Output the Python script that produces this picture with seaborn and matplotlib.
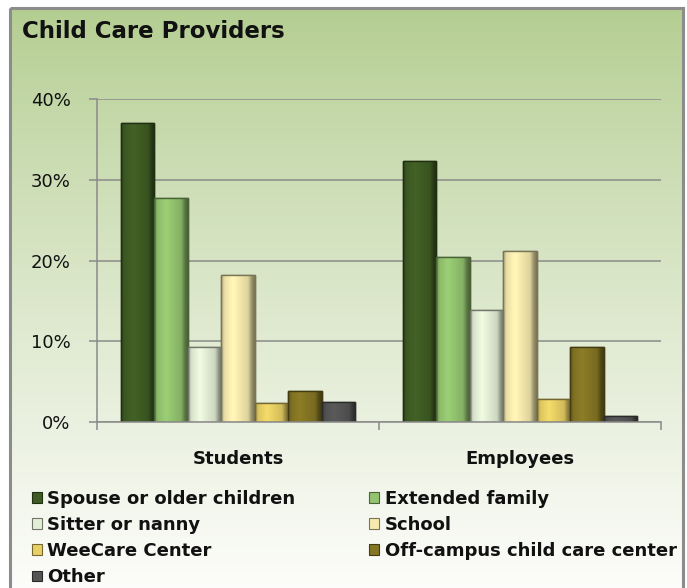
import numpy as np
import pandas as pd
import seaborn as sns
import matplotlib.pyplot as plt
from matplotlib.patches import Rectangle, Patch
from matplotlib.colors import to_rgb

# data (percent)
groups = ['Students', 'Employees']
providers = ['Spouse or older children', 'Extended family', 'Sitter or nanny', 'School',
             'WeeCare Center', 'Off-campus child care center', 'Other']
students = [37.0, 27.7, 9.3, 18.2, 2.3, 3.8, 2.5]
employees = [32.3, 20.4, 13.9, 21.2, 2.9, 9.3, 0.8]
yticks = [0, 10, 20, 30, 40]
ytick_labels = ['0%', '10%', '20%', '30%', '40%']

colors = ['#3f5c24', '#93c46f', '#e3eed6', '#f6eaae', '#e8d064', '#857624', '#555555']

df = pd.DataFrame({
    'group': np.repeat(groups, len(providers)),
    'provider': providers * 2,
    'value': students + employees,
})

sns.set_style('white')
plt.rcParams['font.family'] = ['DejaVu Sans']

W, H = 687, 588
fig = plt.figure(figsize=(W / 100, H / 100), dpi=100)
fig.patch.set_facecolor('white')

# gradient background inside the chart frame
bg = fig.add_axes([0, 0, 1, 1], zorder=-5)
bg.set_xlim(0, W)
bg.set_ylim(H, 0)
bg.axis('off')
top_c = np.array([0xb3, 0xcd, 0x90]) / 255
bot_c = np.array([0xfd, 0xfd, 0xfb]) / 255
t = np.linspace(0, 1, 256)[:, None] ** 0.85
grad = top_c[None, :] * (1 - t) + bot_c[None, :] * t
grad = np.repeat(grad[:, None, :], 2, axis=1)
bg.imshow(grad, extent=(10, 683, H + 5, 8), aspect='auto', interpolation='bilinear')
bg.add_patch(Rectangle((10, 8), 673, H + 10, fill=False, edgecolor='#8c8c8c', linewidth=2.2))

ax = fig.add_axes([97 / W, 1 - 422 / H, (661 - 97) / W, (422 - 99) / H])
ax.patch.set_alpha(0)

sns.barplot(data=df, x='group', y='value', hue='provider', hue_order=providers,
            palette=colors, saturation=1, width=0.83, linewidth=1.0,
            legend=False, ax=ax)

ax.set_ylim(0, 40)
ax.set_xlim(-0.5, 1.5)

# bevel-like shading across each bar, clipped to the bar itself
profile = np.interp(np.linspace(0, 1, 64), [0, 0.1, 0.35, 0.8, 0.92, 1],
                    [0.72, 0.95, 1.06, 0.9, 0.6, 0.5])
for p in list(ax.patches):
    fc = np.array(to_rgb(p.get_facecolor()[:3]))
    p.set_edgecolor(tuple(fc * 0.5))
    x0, y0 = p.get_x(), p.get_y()
    w, h = p.get_width(), p.get_height()
    if h <= 0:
        continue
    shade = np.clip(fc[None, :] * profile[:, None], 0, 1)[None, :, :]
    im = ax.imshow(shade, extent=(x0, x0 + w, y0, y0 + h), aspect='auto',
                   interpolation='bilinear', zorder=p.get_zorder() + 0.1)
    im.set_clip_path(p)
    ax.add_patch(Rectangle((x0, y0), w, h, fill=False, edgecolor=tuple(fc * 0.5),
                           linewidth=1.0, zorder=p.get_zorder() + 0.2))

ax.set_yticks(yticks)
ax.set_yticklabels(ytick_labels, fontsize=13)
ax.set_axisbelow(True)
ax.yaxis.grid(True, color='#8a8a8a', linewidth=1.1)
ax.set_xlabel('')
ax.set_ylabel('')
for lab in ax.get_xticklabels():
    lab.set_fontweight('bold')
    lab.set_fontsize(13)

for s in ['top', 'right']:
    ax.spines[s].set_visible(False)
for s in ['left', 'bottom']:
    ax.spines[s].set_color('#8a8a8a')
    ax.spines[s].set_linewidth(1.1)

ax.tick_params(axis='y', left=True, length=6, width=1.1, color='#8a8a8a', pad=13,
               labelcolor='#111111')
ax.tick_params(axis='x', which='major', length=0, pad=20, labelcolor='#111111')
ax.set_xticks([-0.5, 0.5, 1.5], minor=True)
ax.tick_params(axis='x', which='minor', bottom=True, length=6, width=1.1, color='#8a8a8a')

fig.text(22 / W, 1 - 31 / H, 'Child Care Providers', fontsize=16.5, fontweight='bold',
         va='center', ha='left', color='#111111')

# legend filled row by row like the original
order = [0, 2, 4, 6, 1, 3, 5]
handles = [Patch(facecolor=colors[i], edgecolor=tuple(np.array(to_rgb(colors[i])) * 0.5),
                 linewidth=0.8) for i in order]
labels = [providers[i] for i in order]
fig.legend(handles, labels, loc='upper left', bbox_to_anchor=(32 / W, 1 - 490 / H),
           ncol=2, frameon=False, borderpad=0, borderaxespad=0,
           handlelength=0.55, handleheight=0.55, handletextpad=0.3,
           labelspacing=0.45, columnspacing=4.1,
           prop={'weight': 'bold', 'size': 13}, labelcolor='#111111')

fig.savefig('out.png', dpi=100)
